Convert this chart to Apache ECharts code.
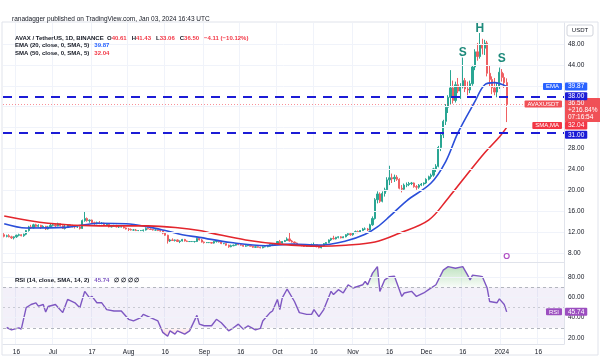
<!DOCTYPE html>
<html><head><meta charset="utf-8">
<script src="https://cdn.jsdelivr.net/npm/echarts@6/dist/echarts.min.js"></script>
<style>html,body{margin:0;padding:0;background:#fff}#c{width:600px;height:358px}</style>
</head><body><div id="c"></div>
<script>
// ---- data ----
const startDate = [2023, 5, 11];   // first category (Jun 11 2023)
const endDate = [2024, 0, 26];     // last category (empty right margin)
// daily candles [open, high, low, close], Jun 11 2023 -> Jan 3 2024
const ohlc = [
[11.5,11.8,11.0,11.2],[11.2,11.5,11.0,11.3],[11.3,11.6,11.0,11.1],[11.1,11.3,10.7,10.9],[10.9,11.2,10.6,11.1],
[11.1,11.5,10.9,11.4],[11.4,11.7,11.2,11.5],[11.5,11.6,11.2,11.3],[11.3,11.7,11.1,11.6],[11.6,12.4,11.4,12.3],
[12.3,13.2,12.1,13.0],
[13.0,13.4,12.6,12.8],[12.8,13.6,12.7,13.4],[13.4,13.6,12.9,13.1],[13.1,13.5,12.9,13.3],[13.3,13.4,12.6,12.9],
[12.9,13.3,12.8,13.1],[13.1,13.2,12.4,12.6],[12.6,13.2,12.5,13.0],[13.0,13.6,12.8,13.3],[13.3,13.6,13.1,13.4],
[13.4,13.6,13.0,13.2],[13.2,13.8,13.1,13.6],[13.6,13.7,13.1,13.2],[13.2,13.3,12.6,12.7],[12.7,13.4,12.5,12.9],
[12.9,13.5,12.8,13.4],[13.4,13.5,13.0,13.2],[13.2,13.4,12.9,13.1],[13.1,13.3,12.7,13.0],[13.0,13.2,12.8,13.0],
[13.0,13.1,12.5,12.7],[12.7,14.4,12.6,14.2],[14.2,15.9,14.0,14.6],[14.6,14.8,14.0,14.2],[14.2,14.4,13.8,14.3],
[14.3,14.4,13.6,13.8],[13.8,14.0,13.4,13.7],[13.7,14.0,13.5,13.8],[13.8,14.1,13.5,13.7],[13.7,13.9,13.5,13.7],
[13.7,13.8,13.3,13.4],[13.4,13.6,13.2,13.5],[13.5,13.5,12.9,13.0],[13.0,13.2,12.9,13.1],[13.1,13.4,13.0,13.2],
[13.2,13.4,12.9,13.0],[13.0,13.2,12.8,13.0],[13.0,13.1,12.9,13.0],[13.0,13.1,12.7,12.8],[12.8,12.9,12.5,12.6],
[12.6,12.8,12.2,12.5],[12.5,12.7,12.3,12.4],[12.4,12.6,12.3,12.4],[12.4,12.6,12.2,12.3],[12.3,12.4,12.2,12.3],
[12.3,12.4,12.2,12.3],[12.3,12.5,12.1,12.4],[12.4,12.9,12.3,12.7],[12.7,12.9,12.5,12.6],[12.6,12.7,12.4,12.5],
[12.5,12.6,12.3,12.4],[12.4,12.5,12.3,12.4],[12.4,12.5,12.2,12.3],[12.3,12.5,12.1,12.2],[12.2,12.3,11.6,11.8],
[11.8,11.9,11.3,11.4],[11.4,11.5,9.8,10.3],[10.3,10.7,10.1,10.5],[10.5,10.8,10.3,10.4],[10.4,10.6,10.2,10.5],
[10.5,10.6,10.1,10.2],[10.2,10.4,9.9,10.3],[10.3,10.7,10.2,10.6],[10.6,10.7,10.2,10.3],[10.3,10.4,10.1,10.2],
[10.2,10.3,10.1,10.2],[10.2,10.3,10.1,10.2],[10.2,10.3,10.0,10.2],[10.2,11.0,10.1,10.8],[10.8,10.9,10.4,10.5],
[10.5,10.7,10.0,10.1],[10.1,10.2,9.8,10.0],[10.0,10.1,9.9,10.0],[10.0,10.1,9.9,10.0],[10.0,10.1,9.8,9.9],
[9.9,10.3,9.8,10.2],[10.2,10.4,10.0,10.2],[10.2,10.3,10.0,10.1],[10.1,10.2,9.7,9.8],[9.8,9.9,9.7,9.8],
[9.8,9.8,9.4,9.5],[9.5,9.6,9.0,9.2],[9.2,9.6,9.1,9.4],[9.4,9.6,9.3,9.5],[9.5,9.8,9.4,9.7],
[9.7,9.8,9.5,9.6],[9.6,9.7,9.4,9.5],[9.5,9.5,9.2,9.3],[9.3,9.6,9.2,9.4],[9.4,9.6,9.3,9.5],
[9.5,9.6,9.3,9.3],[9.3,9.4,9.0,9.1],[9.1,9.3,9.0,9.2],[9.2,9.3,9.0,9.1],[9.1,9.2,8.9,9.0],
[9.0,9.3,8.9,9.2],[9.2,9.3,9.1,9.2],[9.2,9.5,9.1,9.3],[9.3,9.7,9.2,9.6],[9.6,9.8,9.5,9.6],
[9.6,9.8,9.5,9.7],[9.7,10.3,9.6,10.2],[10.2,10.5,9.8,9.9],[9.9,10.3,9.8,10.2],[10.2,10.5,10.1,10.4],
[10.4,11.0,10.3,10.7],[10.7,12.0,10.2,10.3],[10.3,10.5,10.0,10.1],[10.1,10.2,9.8,9.9],[9.9,10.0,9.5,9.6],
[9.6,9.7,9.4,9.5],[9.5,9.6,9.3,9.4],[9.4,9.5,9.2,9.3],[9.3,9.5,9.2,9.4],[9.4,9.6,9.3,9.5],
[9.5,9.8,9.4,9.6],[9.6,10.0,9.3,9.6],[9.6,9.6,9.1,9.2],[9.2,9.3,8.9,9.0],[9.0,9.5,8.9,9.4],
[9.4,9.9,9.3,9.8],[9.8,10.1,9.7,10.0],[10.0,10.6,9.9,10.5],[10.5,10.9,10.3,10.8],[10.8,11.3,10.6,10.7],
[10.7,11.1,10.6,11.0],[11.0,11.2,10.8,11.1],[11.1,11.2,10.8,10.9],[10.9,11.2,10.9,11.1],[11.1,11.6,11.0,11.5],
[11.5,11.8,11.3,11.7],[11.7,11.8,11.3,11.5],[11.5,12.0,11.3,11.9],[11.9,12.3,11.8,12.1],[12.1,12.3,11.8,12.0],
[12.0,12.4,11.9,12.3],[12.3,12.8,12.2,12.6],[12.6,12.9,12.4,12.6],[12.6,12.8,12.2,12.4],[12.4,13.6,12.3,13.4],
[13.4,15.0,13.2,14.6],[14.6,18.5,14.4,18.2],[18.2,19.8,17.5,19.3],[19.3,19.6,17.6,17.9],[17.9,19.8,17.7,19.4],
[19.4,20.5,18.8,20.1],[20.1,22.5,19.8,22.0],[22.0,24.7,21.0,22.4],[22.4,23.2,21.4,22.2],[22.2,23.0,21.6,22.5],
[22.5,22.9,21.8,22.1],[22.1,22.3,20.2,20.4],[20.4,21.0,19.6,20.2],[20.2,21.3,20.0,21.0],[21.0,21.5,20.6,21.1],
[21.1,21.6,20.8,21.3],[21.3,21.6,21.0,21.4],[21.4,21.5,20.5,20.7],[20.7,21.0,20.1,20.6],[20.6,21.2,20.3,21.0],
[21.0,21.4,20.8,21.2],[21.2,21.5,20.9,21.4],[21.4,22.3,21.2,22.1],[22.1,22.8,21.9,22.6],[22.6,23.2,22.2,22.9],
[22.9,24.3,22.6,24.1],[24.1,25.0,23.5,24.6],[24.6,28.5,24.4,28.2],[28.2,31.0,27.5,30.6],[30.6,33.5,30.0,33.2],
[33.2,36.5,32.5,35.9],[35.9,38.2,34.8,37.8],[37.8,43.0,36.5,39.6],[39.6,41.0,36.6,37.2],[37.2,40.8,36.8,40.2],
[40.2,41.5,38.6,39.0],[39.0,40.5,37.5,39.8],[39.8,45.4,39.5,41.0],[41.0,41.5,38.8,39.4],[39.4,40.8,38.2,39.2],
[39.2,41.0,38.6,40.4],[40.4,44.0,40.0,43.6],[43.6,47.0,43.0,46.5],[46.5,48.2,44.8,45.6],[45.6,50.1,45.2,47.8],
[47.8,49.0,46.0,47.2],[47.2,48.8,45.9,48.2],[48.2,48.6,41.8,42.4],[42.4,43.8,39.8,41.2],[41.2,41.8,38.4,39.6],
[39.6,41.5,38.2,38.8],[38.8,40.6,37.8,39.8],[39.8,43.5,39.4,42.6],[42.6,43.2,40.8,41.6],[41.6,42.4,39.6,40.61],
[40.61,41.43,33.06,36.50]
];
// [day index, value]
const emaPts = [[0,13.6],[9,12.8],[25,12.9],[39,13.7],[50,13.6],[59,13.0],[66,12.3],[73,11.5],[80,11.0],[93,10.0],
  [107,9.4],[118,9.7],[129,9.5],[140,10.3],[148,11.6],[153,13.0],[158,15.0],[165,18.0],[175,21.4],[181,25.5],
  [186,31.0],[193,37.0],[197,40.2],[201,40.6],[206,39.87]];
const smaPts = [[0,15.1],[18,13.7],[39,13.2],[59,13.2],[72,12.8],[80,12.3],[85,11.8],[99,10.5],[113,9.7],[129,9.3],
  [140,9.5],[152,10.1],[162,11.8],[174,14.3],[182,18.5],[189,22.6],[197,27.2],[203,30.2],[206,32.04]];
const rsiPts = [[1,30.3],[3,28],[6,30],[7,28.7],[9,50],[11,53],[13,54.7],[14,51.4],[16,53],[17,45.6],[18,51],[21,53],
  [24,45],[26,58],[29,54.7],[31,49.8],[33,66],[35,59.5],[36,61],[38,54.7],[40,54.7],[42,48],[45,46.6],[48,46.6],
  [51,38.4],[53,36.8],[56,40],[57,43.3],[60,40],[63,36.8],[65,25.5],[67,21.6],[68,27],[70,23.8],[71,27],[74,23.8],
  [76,27],[79,42.3],[80,33.6],[82,32],[85,32],[87,38.4],[89,35],[92,27],[94,30],[96,33.6],[98,28.7],[100,32],
  [103,28],[105,29.4],[106,36.8],[109,45],[110,46.6],[112,58],[113,48],[114,59.5],[116,68.3],[119,56],[121,45],
  [124,43.3],[126,43.3],[127,48],[129,41],[131,48],[134,66],[135,62.8],[137,67.7],[139,64.4],[141,72.5],[143,69.3],
  [147,72.5],[148,75.8],[149,72.5],[151,84],[153,90.4],[154,66],[156,77.4],[158,80.6],[160,81],[163,61],[164,64.4],
  [167,66],[169,61],[172,64.4],[174,67.7],[177,72.5],[180,87],[182,90.4],[185,88.8],[188,90.4],[190,82],[191,77.4],
  [192,82],[195,81],[196,80.6],[198,69.3],[199,56],[202,54.7],[203,58.6],[205,53],[206,45.74]];
const priceTicks = [8,12,16,20,24,28,32,36,40,44,48];
const rsiTicks = [20,40,60,80];
const tickDates = ['2023-06-16','2023-07-01','2023-07-17','2023-08-01','2023-08-16','2023-09-01','2023-09-16',
  '2023-10-01','2023-10-16','2023-11-01','2023-11-16','2023-12-01','2023-12-16','2024-01-01','2024-01-16'];
const tickLabels = ['16','Jul','17','Aug','16','Sep','16','Oct','16','Nov','16','Dec','16','2024','16'];
const levels = [38, 31];
const lastClose = 36.50, emaLast = 39.87, smaLast = 32.04, rsiLast = 45.74;
const patternLabels = [['S',188,46.4],['H',195,51.0],['S',204,45.2]];

// ---- build ----
const dates = [];
for (let t = Date.UTC(...startDate); t <= Date.UTC(...endDate); t += 86400000) dates.push(new Date(t).toISOString().slice(0,10));
const labelMap = {}; tickDates.forEach((d,i)=>labelMap[d]=tickLabels[i]);
const tickIdx = new Set(tickDates.map(d=>dates.indexOf(d)));
const candles = ohlc.map(r=>[r[0], r[3], r[2], r[1]]);
const UP='#2aa693', DN='#ef5f62';
const FONT='Liberation Sans, Arial, sans-serif';
const LV='#1c1cd6';
const NOLINE={color:'rgba(0,0,0,0)', width:0};
const boxLbl = (txt,bg,extra)=>Object.assign({show:true, position:'end', distance:1, formatter:txt, backgroundColor:bg,
  color:'#fff', fontSize:6.5, fontFamily:FONT, padding:[1,3,0,3], borderRadius:1, opacity:1}, extra||{});
const tagLbl = (txt,bg,extra)=>Object.assign({show:true, position:'insideEnd', distance:2, formatter:txt, backgroundColor:bg,
  color:'#fff', fontSize:6, fontFamily:FONT, padding:[1,3,0,3], borderRadius:1, opacity:1}, extra||{});

const xBase = (gi)=>({type:'category', gridIndex:gi, data:dates, boundaryGap:true,
  axisTick:{show:false}, axisLine:{show:true, lineStyle:{color:'#e0e3eb'}},
  splitLine:{show:true, interval:(i)=>tickIdx.has(i), lineStyle:{color:'#f0f3fa', width:1}},
  axisLabel:{show:false}});

const option = {
  animation:false,
  backgroundColor:'#fff',
  textStyle:{fontFamily:FONT},
  title:[
    {left:7, top:11, text:'ranadagger published on TradingView.com, Jan 03, 2024 16:43 UTC',
      textStyle:{fontSize:6.5, color:'#131722', fontWeight:'normal', fontFamily:FONT}},
    {left:10, top:24, text:'{n|AVAX / TetherUS, 1D, BINANCE  O}{v|40.61} {n|H}{v|41.43} {n|L}{v|33.06} {n|C}{v|36.50} {v|−4.11 (−10.12%)}',
      textStyle:{rich:{n:{fontSize:6,color:'#131722',fontFamily:FONT}, v:{fontSize:6,color:'#f23645',fontFamily:FONT}}}},
    {left:10, top:31.5, text:'{n|EMA (20, close, 0, SMA, 5)} {b|39.87}',
      textStyle:{rich:{n:{fontSize:6,color:'#131722',fontFamily:FONT}, b:{fontSize:6,color:'#2962ff',fontFamily:FONT}}}},
    {left:10, top:39, text:'{n|SMA (50, close, 0, SMA, 5)} {r|32.04}',
      textStyle:{rich:{n:{fontSize:6,color:'#131722',fontFamily:FONT}, r:{fontSize:6,color:'#f23645',fontFamily:FONT}}}},
    {left:10, top:266, text:'{n|RSI (14, close, SMA, 14, 2)} {p|45.74} {n|∅ ∅ ∅ ∅}',
      textStyle:{rich:{n:{fontSize:6,color:'#131722',fontFamily:FONT}, p:{fontSize:6,color:'#7e57c2',fontFamily:FONT}}}}
  ],
  graphic:[
    {type:'rect', shape:{x:2,y:22,width:596,height:333}, style:{fill:'none', stroke:'#e0e3eb', lineWidth:1}, z:-1},
    {type:'rect', shape:{x:567,y:25,width:26,height:11,r:2}, style:{fill:'#fff', stroke:'#d1d4dc', lineWidth:1}},
    {type:'text', x:580, y:30.5, style:{text:'USDT', fontSize:6, fill:'#131722', align:'center', verticalAlign:'middle', fontFamily:FONT}}
  ],
  grid:[
    {left:3, right:36, top:23, height:239},
    {left:3, right:36, top:262, height:82}
  ],
  xAxis:[
    xBase(0),
    Object.assign(xBase(1), {axisLabel:{show:true, interval:(i)=>tickIdx.has(i), formatter:(v)=>labelMap[v]||'',
      fontSize:6.5, color:'#131722', margin:5, fontFamily:FONT}})
  ],
  yAxis:[
    {type:'value', gridIndex:0, position:'right', min:6.28, max:52.02, scale:true,
      axisLine:{show:true, lineStyle:{color:'#e0e3eb'}}, axisTick:{show:false}, splitLine:{show:false},
      axisLabel:{customValues:priceTicks, formatter:(v)=>v.toFixed(2), fontSize:6.5, color:'#131722', margin:4, fontFamily:FONT}},
    {type:'value', gridIndex:1, position:'right', min:14, max:95,
      axisLine:{show:true, lineStyle:{color:'#e0e3eb'}}, axisTick:{show:false}, splitLine:{show:false},
      axisLabel:{customValues:rsiTicks, formatter:(v)=>v.toFixed(2), fontSize:6.5, color:'#131722', margin:4, fontFamily:FONT}}
  ],
  series:[
    {type:'line', name:'grid', xAxisIndex:0, yAxisIndex:0, data:[], z:0, silent:true,
      markLine:{symbol:'none', silent:true, animation:false, label:{show:false},
        lineStyle:{color:'#f0f3fa', width:1, type:'solid'}, data:priceTicks.map(v=>({yAxis:v}))}},
    {type:'line', name:'rsigrid', xAxisIndex:1, yAxisIndex:1, data:[], z:0, silent:true,
      markLine:{symbol:'none', silent:true, animation:false, label:{show:false},
        lineStyle:{color:'#f0f3fa', width:1, type:'solid'}, data:rsiTicks.map(v=>({yAxis:v}))}},
    {type:'candlestick', name:'AVAXUSDT', xAxisIndex:0, yAxisIndex:0, data:candles, barWidth:'70%', z:3,
      itemStyle:{color:UP, color0:DN, borderColor:UP, borderColor0:DN, borderWidth:1},
      markLine:{symbol:'none', silent:true, animation:false, z:5,
        data:[
          {yAxis:lastClose, lineStyle:{color:'rgba(242,54,69,0.55)', width:1, type:[1,2]},
            label:boxLbl(lastClose.toFixed(2)+'\n+216.84%\n07:16:54', '#f05056', {offset:[0,6], lineHeight:7, padding:[2,3,1,3]})},
          {yAxis:lastClose, lineStyle:NOLINE, label:tagLbl('AVAXUSDT', '#f05056')},
          {yAxis:emaLast, lineStyle:NOLINE, label:boxLbl(emaLast.toFixed(2), '#2962ff')},
          {yAxis:emaLast, lineStyle:NOLINE, label:tagLbl('EMA', '#2962ff')},
          {yAxis:smaLast, lineStyle:NOLINE, label:boxLbl(smaLast.toFixed(2), '#f23645', {offset:[0,-2]})},
          {yAxis:smaLast, lineStyle:NOLINE, label:tagLbl('SMA,MA', '#f23645', {offset:[0,-2]})},
          {yAxis:levels[0], lineStyle:{color:LV, width:2, type:[9,7]}, label:boxLbl(levels[0].toFixed(2), LV)},
          {yAxis:levels[1], lineStyle:{color:LV, width:2, type:[9,7]}, label:boxLbl(levels[1].toFixed(2), LV, {offset:[0,2]})}
        ]},
      markPoint:{silent:true, animation:false,
        data: patternLabels.map(([t,i,v])=>({coord:[dates[i], v], symbol:'circle', symbolSize:1,
          itemStyle:{color:'rgba(0,0,0,0)'},
          label:{show:true, position:'inside', formatter:t, color:'#1d8a7b', fontWeight:'bold', fontSize:12, fontFamily:FONT}}))
          .concat([{coord:[dates[206], 7.43], symbol:'circle', symbolSize:5,
            itemStyle:{color:'#fff', borderColor:'#b04fc4', borderWidth:1.2}, label:{show:false}}])}},
    {type:'line', name:'EMA', xAxisIndex:0, yAxisIndex:0, data:emaPts, smooth:0.35, symbol:'none', z:4,
      lineStyle:{color:'#2b4fd9', width:1.6}},
    {type:'line', name:'SMA', xAxisIndex:0, yAxisIndex:0, data:smaPts, smooth:0.35, symbol:'none', z:4,
      lineStyle:{color:'#e3262d', width:1.6}},
    {type:'line', id:'ob', xAxisIndex:1, yAxisIndex:1, data:rsiPts, symbol:'none', z:2,
      lineStyle:NOLINE, areaStyle:{origin:70, color:'rgba(0,0,0,0)'}},
    {type:'line', id:'os', xAxisIndex:1, yAxisIndex:1, data:rsiPts, symbol:'none', z:2,
      lineStyle:NOLINE, areaStyle:{origin:30, color:'rgba(0,0,0,0)'}},
    {type:'line', name:'RSI', xAxisIndex:1, yAxisIndex:1, data:rsiPts, symbol:'none', z:4,
      lineStyle:{color:'#7e57c2', width:1.4},
      markArea:{silent:true, itemStyle:{color:'rgba(126,87,194,0.09)'}, data:[[{yAxis:30},{yAxis:70}]]},
      markLine:{symbol:'none', silent:true, animation:false,
        data:[
          {yAxis:70, lineStyle:{color:'#b2b5be', width:1, type:[3,3]}, label:{show:false}},
          {yAxis:50, lineStyle:{color:'#c8cad2', width:1, type:[2,3]}, label:{show:false}},
          {yAxis:30, lineStyle:{color:'#b2b5be', width:1, type:[3,3]}, label:{show:false}},
          {yAxis:rsiLast, lineStyle:NOLINE, label:boxLbl(rsiLast.toFixed(2), '#9c4fc0')},
          {yAxis:rsiLast, lineStyle:NOLINE, label:tagLbl('RSI', '#9c4fc0')}
        ]}}
  ]
};
const chart = echarts.init(document.getElementById('c'), null, {renderer:'canvas'});
chart.setOption(option);
const yTop = chart.convertToPixel({yAxisIndex:1}, 95);
const y70 = chart.convertToPixel({yAxisIndex:1}, 70);
const y30 = chart.convertToPixel({yAxisIndex:1}, 30);
const yBot = chart.convertToPixel({yAxisIndex:1}, 14);
chart.setOption({series:[
  {id:'ob', areaStyle:{origin:70, color:new echarts.graphic.LinearGradient(0, yTop, 0, y70, [
    {offset:0, color:'rgba(76,175,80,0.6)'}, {offset:0.99, color:'rgba(76,175,80,0.06)'}, {offset:1, color:'rgba(76,175,80,0)'}], true)}},
  {id:'os', areaStyle:{origin:30, color:new echarts.graphic.LinearGradient(0, y30, 0, yBot, [
    {offset:0, color:'rgba(242,54,69,0)'}, {offset:0.01, color:'rgba(242,54,69,0.06)'}, {offset:1, color:'rgba(242,54,69,0.5)'}], true)}}
]});
</script></body></html>
